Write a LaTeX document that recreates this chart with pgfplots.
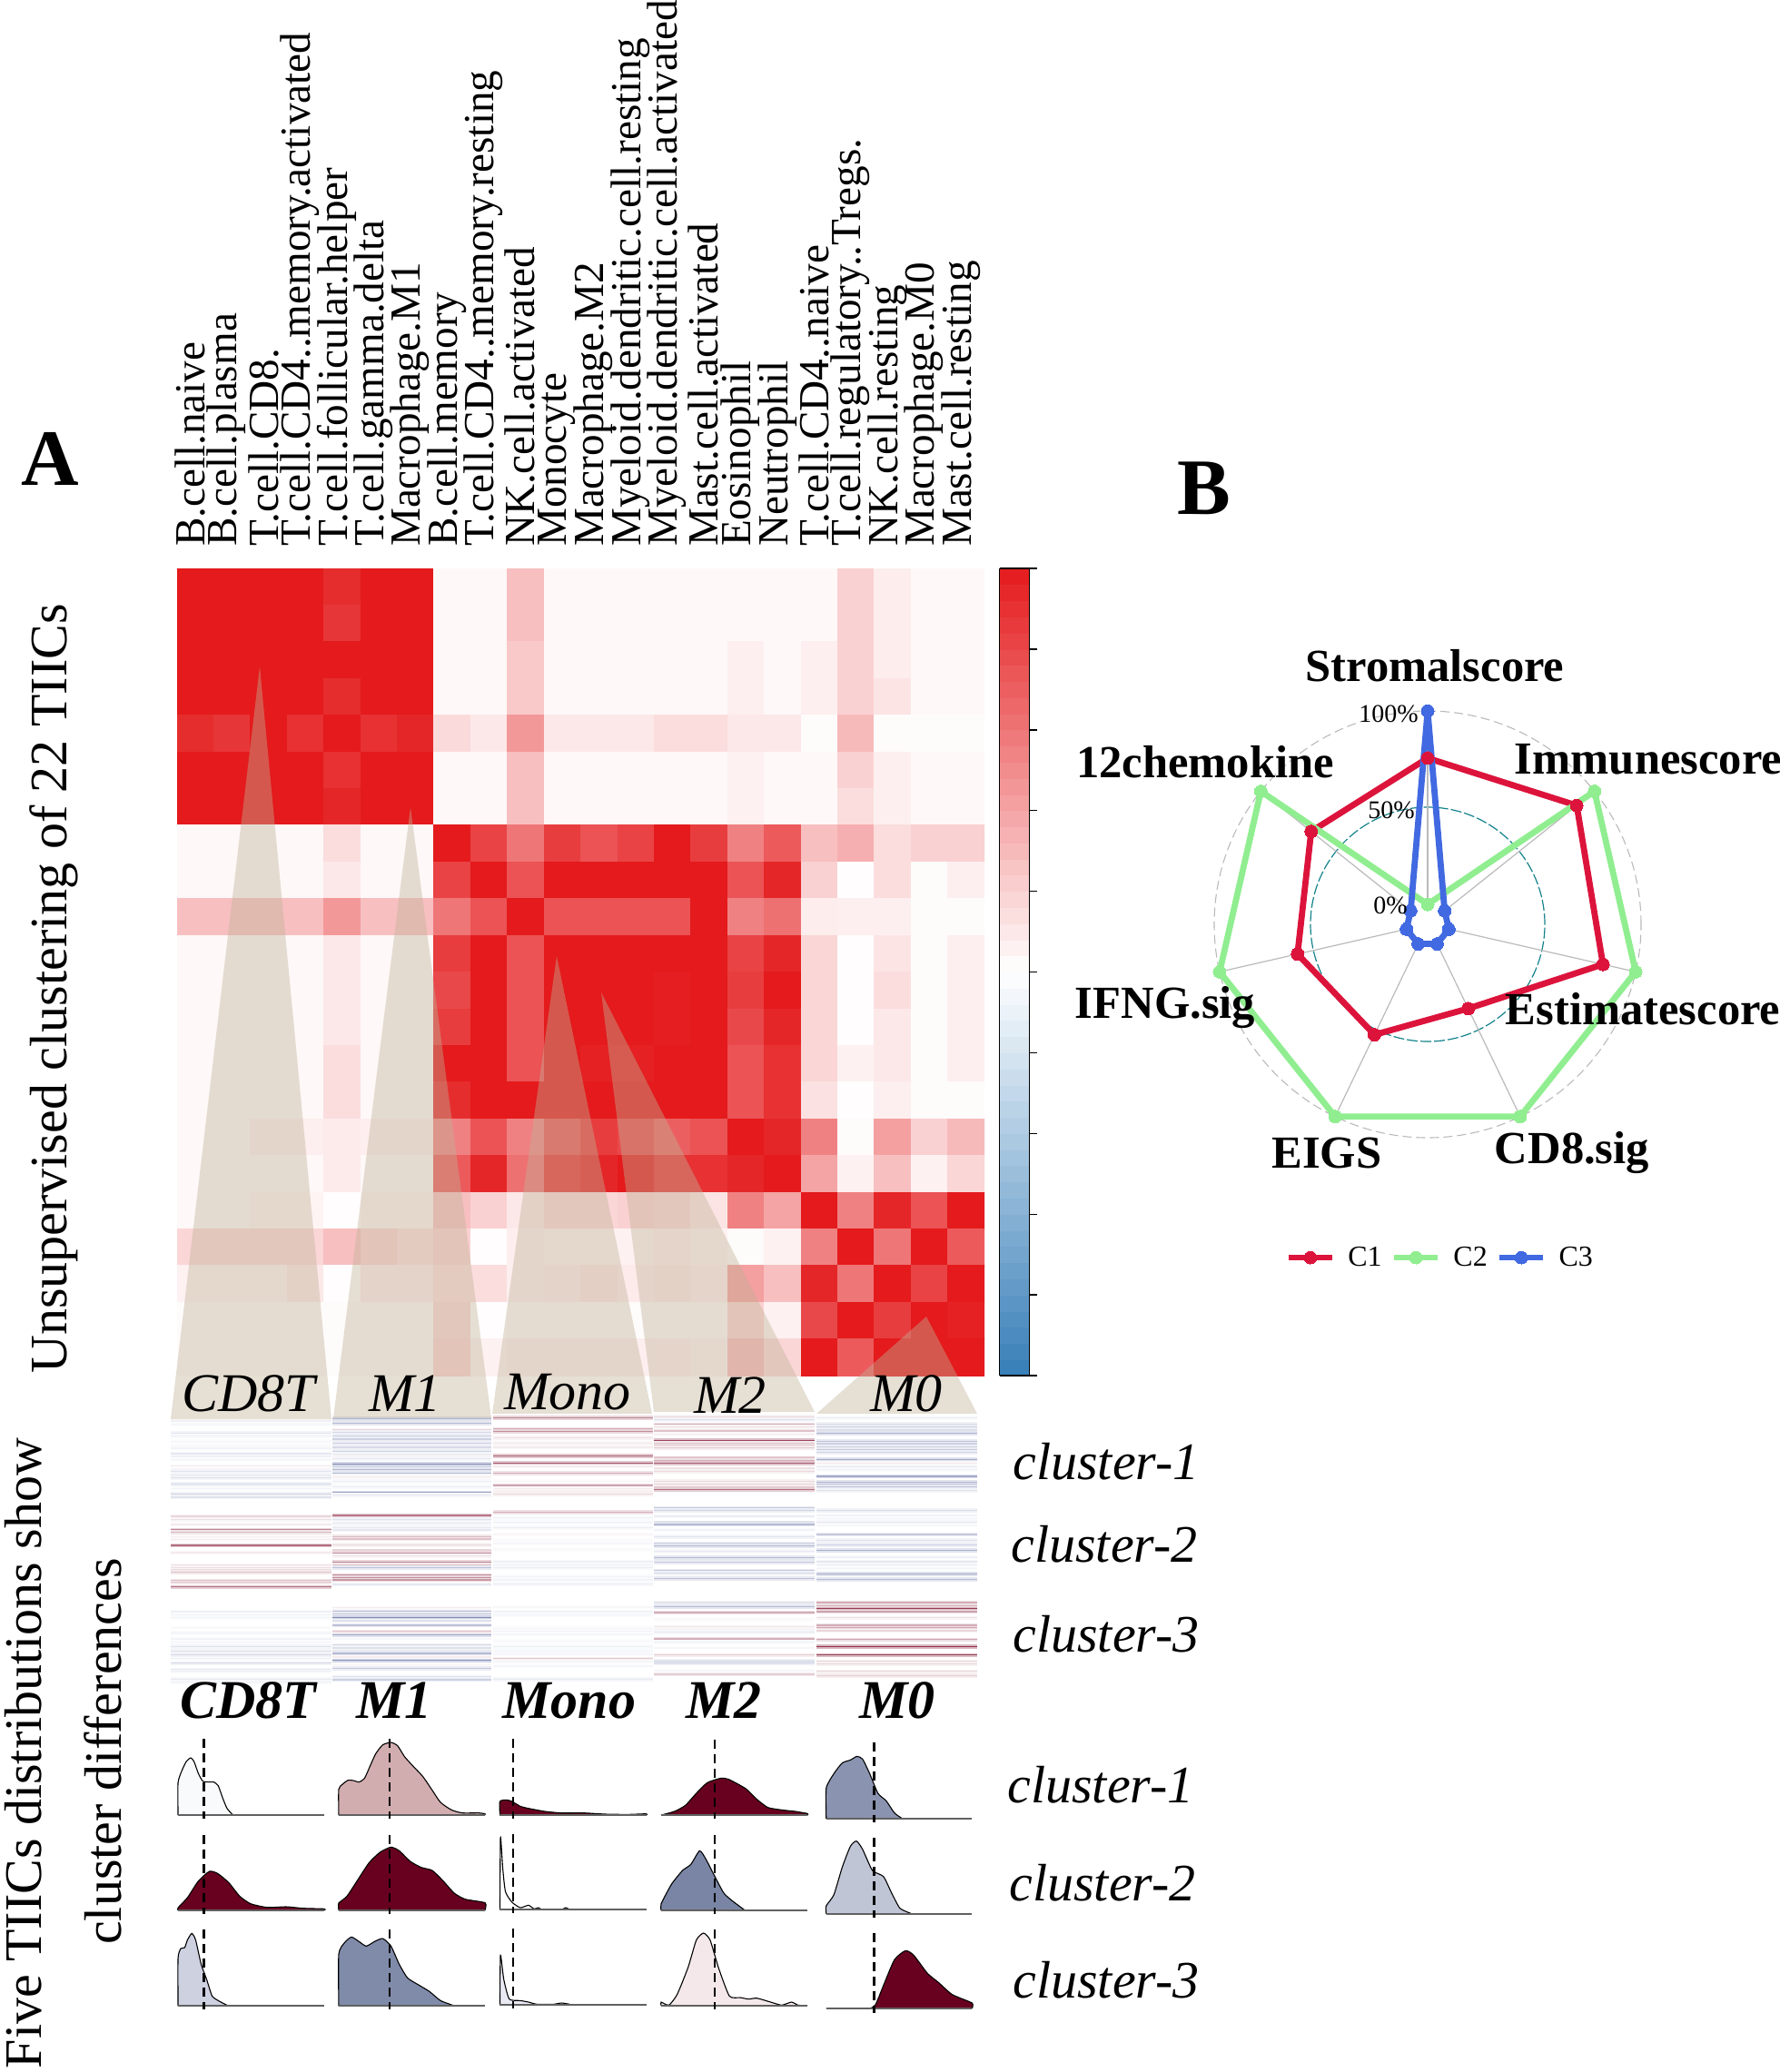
\documentclass[border=0pt]{standalone}
\usepackage{pgfplots}
\pgfplotsset{compat=1.18}
\usepackage{fontspec}
\setmainfont{Liberation Serif}
\definecolor{sred}{RGB}{125,15,45}
\definecolor{sblue}{RGB}{60,75,140}
\definecolor{dred}{RGB}{104,0,31}
\definecolor{tanb}{RGB}{193,178,151}
\definecolor{cone}{RGB}{220,20,60}
\definecolor{ctwo}{RGB}{144,238,144}
\definecolor{cthree}{RGB}{65,105,225}
\definecolor{cteal}{RGB}{20,130,140}
\definecolor{da}{RGB}{248,250,252}
\definecolor{db}{RGB}{210,173,176}
\definecolor{dc}{RGB}{138,148,176}
\definecolor{dd}{RGB}{122,133,165}
\definecolor{de}{RGB}{192,197,214}
\definecolor{df}{RGB}{205,209,224}
\definecolor{dg}{RGB}{128,139,170}
\definecolor{dh}{RGB}{234,234,244}
\definecolor{di}{RGB}{244,232,234}
\newcommand\fs[1]{\fontsize{#1}{#1}\selectfont}
% one block of horizontal stripes: xleft, xright, list of position/signed intensity
\newcommand\stripes[3]{%
  \foreach \yy/\vv in {#3}{%
    \pgfmathsetmacro\pct{abs(\vv)*85}%
    \pgfmathsetmacro\pctb{abs(\vv)*30}%
    \ifdim\vv pt<0pt \def\cc{sblue}\else \def\cc{sred}\fi
    \edef\temp{\noexpand\addplot[forget plot,line width=2.2pt,color=\cc!\pctb!white] coordinates {(#1,\yy)(#2,\yy)};
      \noexpand\addplot[forget plot,line width=.7pt,color=\cc!\pct!white] coordinates {(#1,\yy)(#2,\yy)};}%
    \temp
  }%
}
% one density curve: fill colour, baseline (x0,x1,y), curve
\newcommand\dens[5]{%
  \addplot[forget plot,fill=#1,draw=black,line width=.55pt,smooth,tension=.35] coordinates {#5};
  \addplot[forget plot,draw=black!62,line width=1pt] coordinates {(#2,#4)(#3,#4)};
}
\newcommand\vdsh[3]{\addplot[forget plot,draw=black,line width=1.1pt,dash pattern=on 5pt off 3pt] coordinates {(#1,#2)(#1,#3)};}
\begin{document}
\begin{tikzpicture}
\path[use as bounding box] (0,0) rectangle (980pt,-1141pt);
% heatmap
\begin{axis}[at={(97.5pt,-313pt)},anchor=north west,scale only axis,width=444.5pt,height=444.5pt,
  xmin=-.5,xmax=21.5,ymin=-.5,ymax=21.5,y dir=reverse,
  axis line style={draw=none},ytick=\empty,
  xtick={0,...,21},
  xticklabels={B.cell.naive,B.cell.plasma,T.cell.CD8.,T.cell.CD4..memory.activated,T.cell.follicular.helper,T.cell.gamma.delta,Macrophage.M1,B.cell.memory,T.cell.CD4..memory.resting,NK.cell.activated,Monocyte,Macrophage.M2,Myeloid.dendritic.cell.resting,Myeloid.dendritic.cell.activated,Mast.cell.activated,Eosinophil,Neutrophil,T.cell.CD4..naive,T.cell.regulatory..Tregs.,NK.cell.resting,Macrophage.M0,Mast.cell.resting},
  xticklabel pos=top,major tick length=0pt,
  x tick label style={rotate=90,anchor=west,font=\fs{23.6},xshift=-1.5pt,yshift=3pt},
  xticklabel shift=10pt,
  colormap={bwr}{rgb255(0cm)=(55,126,184); rgb255(1cm)=(255,255,255); rgb255(2cm)=(228,26,28)},
  point meta min=-1,point meta max=1,
  colorbar sampled,
  colorbar style={samples=51,at={(1.0186,1)},anchor=north west,width=16.5pt,height=444.5pt,
    ytick={-1,-.8,...,1},yticklabels={},major tick length=4pt,tick align=outside,ytick pos=right,yticklabel pos=right,
    ytick style={draw=black,line width=.7pt},axis line style={draw=black,line width=.9pt}},
]
\addplot[matrix plot*,mesh/cols=22,point meta=explicit] table[row sep=\\,x expr={\coordindex-22*int((\coordindex+.5)/22)},y expr={int((\coordindex+.5)/22)},meta=v] {
v\\
1\\1\\1\\1\\.92\\1\\1\\.03\\.03\\.28\\.03\\.03\\.03\\.03\\.03\\.03\\.03\\.03\\.2\\.08\\.03\\.03\\
1\\1\\1\\1\\.88\\1\\1\\.03\\.03\\.28\\.03\\.03\\.03\\.03\\.03\\.03\\.03\\.03\\.2\\.08\\.03\\.03\\
1\\1\\1\\1\\1\\1\\1\\.03\\.03\\.24\\.03\\.03\\.03\\.03\\.03\\.07\\.03\\.07\\.2\\.08\\.03\\.03\\
1\\1\\1\\1\\.92\\1\\1\\.03\\.03\\.24\\.03\\.03\\.03\\.03\\.03\\.07\\.03\\.07\\.2\\.12\\.03\\.03\\
.92\\.88\\1\\.9\\1\\.9\\.95\\.16\\.1\\.45\\.1\\.1\\.1\\.15\\.15\\.1\\.1\\.02\\.3\\.02\\.02\\.02\\
1\\1\\1\\1\\.9\\1\\1\\.03\\.03\\.28\\.03\\.03\\.03\\.03\\.03\\.06\\.03\\.03\\.2\\.07\\.03\\.03\\
1\\1\\1\\1\\.95\\1\\1\\.03\\.03\\.28\\.03\\.03\\.03\\.03\\.03\\.06\\.03\\.03\\.15\\.07\\.03\\.03\\
.03\\.03\\.03\\.03\\.15\\.03\\.03\\1\\.82\\.6\\.85\\.75\\.82\\1\\.85\\.55\\.72\\.28\\.35\\.15\\.2\\.2\\
.03\\.03\\.03\\.03\\.1\\.03\\.03\\.82\\1\\.75\\1\\1\\1\\1\\1\\.75\\.95\\.2\\.01\\.15\\.02\\.07\\
.28\\.28\\.28\\.28\\.45\\.28\\.28\\.6\\.75\\1\\.75\\.75\\.75\\.75\\1\\.55\\.62\\.08\\.07\\.07\\.02\\.02\\
.03\\.03\\.03\\.03\\.1\\.03\\.03\\.85\\1\\.75\\1\\1\\1\\1\\1\\.82\\.95\\.18\\.01\\.12\\.02\\.07\\
.03\\.03\\.03\\.03\\.1\\.03\\.03\\.8\\1\\.75\\1\\1\\1\\.98\\1\\.85\\1\\.18\\.01\\.15\\.02\\.07\\
.03\\.03\\.03\\.03\\.1\\.03\\.03\\.85\\1\\.75\\1\\1\\1\\.98\\1\\.8\\.95\\.18\\.01\\.1\\.02\\.07\\
.03\\.03\\.03\\.03\\.15\\.03\\.03\\1\\1\\.75\\1\\.97\\.97\\1\\1\\.75\\.9\\.18\\.06\\.1\\.02\\.07\\
.03\\.03\\.03\\.03\\.15\\.03\\.03\\.92\\1\\1\\1\\1\\1\\1\\1\\.75\\.9\\.13\\.01\\.07\\.02\\.02\\
.03\\.03\\.07\\.07\\.09\\.07\\.07\\.55\\.75\\.55\\.75\\.85\\.8\\.7\\.75\\1\\.95\\.55\\.02\\.42\\.2\\.3\\
.03\\.03\\.03\\.03\\.09\\.03\\.03\\.72\\.95\\.62\\.9\\.95\\1\\.9\\.9\\.95\\1\\.4\\.06\\.28\\.06\\.18\\
.03\\.03\\.05\\.05\\.01\\.05\\.05\\.28\\.2\\.1\\.18\\.18\\.2\\.18\\.12\\.55\\.4\\1\\.55\\.95\\.75\\1\\
.18\\.18\\.18\\.18\\.28\\.2\\.15\\.2\\.01\\.07\\.06\\.06\\.06\\.08\\.06\\.02\\.06\\.55\\1\\.6\\1\\.72\\
.06\\.06\\.06\\.1\\.01\\.09\\.09\\.15\\.15\\.07\\.09\\.12\\.09\\.1\\.08\\.42\\.28\\.95\\.6\\1\\.82\\1\\
.02\\.02\\.02\\.02\\.02\\.02\\.02\\.18\\.01\\.02\\.02\\.02\\.02\\.02\\.02\\.2\\.06\\.8\\1\\.85\\1\\.97\\
.02\\.02\\.02\\.02\\.02\\.02\\.02\\.2\\.06\\.07\\.07\\.07\\.07\\.08\\.05\\.3\\.18\\1\\.72\\1\\1\\1\\
};
\end{axis}
% stripes
\begin{axis}[at={(94pt,-777.5pt)},anchor=north west,scale only axis,width=444pt,height=152.5pt,
  xmin=188,xmax=1076,ymin=165,ymax=1080,y dir=reverse,hide axis,clip=false]
\stripes{188}{365}{195/-.1,205/-.08,235/-.18,245/-.1,262/-.07,278/.05,285/-.08,303/-.15,312/-.1,322/-.08,345/.1,352/.05,362/-.18,375/-.15,382/-.2,403/-.25,418/-.08,437/-.28,447/-.18}
\stripes{366}{541}{187/-.5,203/-.45,225/.2,232/-.25,245/-.3,255/-.3,268/-.3,282/-.25,295/-.3,305/-.15,315/.2,320/-.15,337/-.75,350/-.7,355/-.45,368/-.45,375/-.25,380/.1,395/-.12,412/-.12,432/-.6,440/-.15}
\stripes{543}{719}{184/.6,222/.4,230/.55,250/.15,268/.12,282/.1,310/.75,334/.8,345/.1,368/.4,395/.05,408/.45,418/.1,430/.2,436/.2}
\stripes{720}{897}{182/.2,190/-.2,207/.4,215/.15,228/.3,238/.1,260/.9,268/.3,276/.3,284/.25,320/.8,325/.4,335/.8,356/.4,362/.2,395/.2,403/.2,412/.25,422/.7}
\stripes{899}{1076}{185/-.12,205/-.25,215/-.3,230/-.6,235/-.5,262/-.4,270/-.3,280/-.3,290/-.35,298/-.3,322/-.55,335/.1,348/-.15,356/-.1,378/-.55,397/-.5,405/-.4,413/-.4,425/-.2}
\stripes{188}{365}{510/.2,520/.15,537/.1,555/.6,562/.35,578/.08,586/.1,606/.7,630/.1,672/.15,680/.15,690/.5,695/.3,722/.3,728/.3,743/.7}
\stripes{366}{541}{507/.65,520/-.2,533/-.15,548/-.15,555/-.15,578/.35,585/.3,605/.2,625/.6,632/.55,640/.15,662/.6,670/.3,680/-.4,705/.55,712/.55,720/.5,735/-.15}
\stripes{543}{719}{496/.4,515/-.1,530/-.1,548/-.12,570/.05,590/-.05,600/-.05,620/-.05,660/-.1,672/-.1,680/-.12,710/-.08,720/-.08,733/-.12}
\stripes{720}{897}{483/-.35,490/-.3,510/-.12,532/-.55,537/-.45,555/-.08,578/-.18,600/-.3,607/-.45,625/-.15,646/-.45,662/-.35,690/-.35,698/-.25,716/-.4}
\stripes{899}{1076}{490/-.25,507/-.08,517/-.08,530/-.15,540/-.05,570/-.35,590/-.2,605/-.3,622/-.5,645/-.1,660/-.15,670/-.12,683/-.08,700/-.55,718/-.45}
\stripes{188}{365}{825/-.1,835/-.08,845/-.08,878/-.05,895/-.1,915/-.08,925/-.07,940/-.18,955/-.2,968/-.25,980/-.1,995/-.25,1016/-.15,1022/-.12,1048/-.15,1058/-.1}
\stripes{366}{541}{812/.1,825/-.4,832/-.35,844/-.75,855/-.2,870/-.4,890/.3,902/-.55,915/-.05,935/-.25,945/-.2,958/-.4,963/-.45,975/.1,986/-.7,1000/.05,1012/-.35,1040/-.2,1050/-.3}
\stripes{543}{719}{810/-.05,825/-.08,835/-.08,880/-.07,890/-.07,900/-.06,922/-.05,940/-.1,955/-.08,965/-.07,980/.25,990/-.06,1005/-.06,1048/-.15}
\stripes{720}{897}{795/-.18,808/-.45,828/.4,850/-.05,875/.12,888/-.2,892/-.15,915/.4,925/-.1,945/-.05,968/.25,988/-.3,995/-.3,1020/-.05,1032/.25}
\stripes{899}{1076}{795/.4,805/.4,815/.95,825/.45,845/.15,870/.4,878/.45,888/.2,917/.45,940/1,968/.9,990/.2,997/.2,1022/.2,1036/.25}
\end{axis}
% densities
\begin{axis}[at={(85pt,-950pt)},anchor=north west,scale only axis,width=475pt,height=170pt,
  xmin=0,xmax=1568,ymin=0,ymax=1020,y dir=reverse,hide axis,clip=false]
\dens{da}{43}{309}{297}{(43,297)(43,190)(50,150)(58,120)(66,108)(72,120)(80,160)(88,185)(100,188)(108,188)(116,200)(124,240)(132,275)(143,297)}
\dens{db}{335}{601}{297}{(335,297)(335,212)(342,195)(352,182)(362,183)(372,188)(382,175)(392,135)(402,95)(415,65)(430,57)(442,68)(455,105)(470,135)(488,170)(505,215)(520,255)(540,280)(560,290)(590,290)(601,293)(601,297)}
\dens{dred}{628}{894}{297}{(628,297)(628,252)(640,247)(650,252)(665,268)(680,275)(710,285)(740,290)(780,290)(820,294)(860,295)(894,293)(894,297)}
\dens{dred}{921}{1187}{297}{(921,297)(945,285)(965,265)(985,225)(1005,190)(1030,175)(1045,180)(1075,210)(1095,245)(1115,272)(1140,280)(1165,285)(1187,292)(1187,297)}
\dens{dc}{1221}{1486}{309}{(1221,309)(1221,208)(1235,160)(1250,125)(1265,115)(1277,103)(1287,112)(1300,160)(1315,225)(1330,250)(1345,290)(1358,307)}
\dens{dred}{43}{309}{611}{(43,611)(43,603)(60,570)(80,515)(100,483)(115,490)(135,520)(155,565)(175,590)(205,602)(240,600)(270,605)(309,607)(309,611)}
\dens{dred}{335}{601}{611}{(335,611)(335,588)(350,565)(370,510)(390,455)(410,420)(430,403)(445,415)(465,450)(485,470)(505,480)(525,515)(545,555)(565,575)(601,587)(601,611)}
\dens{white}{628}{894}{609}{(628,609)(629,370)(633,470)(638,550)(650,585)(665,603)(680,595)(690,607)(698,603)(705,609)(740,609)(747,603)(755,609)}
\dens{dd}{921}{1187}{611}{(921,611)(921,590)(940,525)(960,480)(975,460)(991,415)(1003,445)(1020,505)(1035,555)(1050,580)(1072,610)}
\dens{de}{1221}{1486}{623}{(1221,623)(1221,597)(1235,560)(1250,470)(1265,400)(1276,383)(1287,410)(1305,480)(1325,500)(1340,555)(1355,605)(1375,622)}
\dens{df}{43}{309}{928}{(43,928)(43,770)(48,738)(55,735)(60,710)(68,688)(75,710)(85,790)(95,840)(105,895)(118,912)(135,928)}
\dens{dg}{335}{601}{928}{(335,928)(335,757)(345,720)(358,700)(372,715)(385,730)(400,715)(415,705)(430,730)(445,790)(460,835)(480,858)(500,880)(520,910)(545,927)}
\dens{dh}{628}{894}{923}{(628,923)(629,760)(635,840)(645,905)(665,910)(680,915)(695,922)(725,922)(740,918)(755,922)}
\dens{di}{921}{1187}{926}{(921,926)(921,915)(935,925)(950,890)(970,800)(985,710)(998,687)(1010,710)(1025,800)(1045,895)(1065,900)(1080,905)(1095,902)(1120,915)(1140,925)(1158,915)(1170,925)(1187,926)}
\dens{dred}{1221}{1486}{936}{(1221,936)(1295,936)(1310,925)(1325,860)(1345,775)(1365,745)(1380,760)(1405,820)(1425,850)(1450,890)(1486,918)(1486,936)}
\vdsh{90}{45}{310}\vdsh{427}{45}{310}\vdsh{652}{45}{310}\vdsh{1018}{48}{310}\vdsh{1308}{58}{320}
\vdsh{90}{362}{625}\vdsh{427}{362}{625}\vdsh{652}{360}{622}\vdsh{1018}{362}{625}\vdsh{1308}{373}{635}
\vdsh{90}{675}{940}\vdsh{427}{675}{940}\vdsh{652}{672}{935}\vdsh{1018}{675}{938}\vdsh{1308}{687}{950}
\end{axis}
% radar
\begin{axis}[at={(786pt,-509pt)},anchor=center,scale only axis,width=320.4pt,height=320.4pt,
  xmin=-150,xmax=150,ymin=-150,ymax=150,hide axis,clip=false,
  legend columns=3,
  legend style={draw=none,fill=none,at={(.523,-.0727)},anchor=center,font=\fs{16},
    /tikz/every even column/.append style={column sep=3pt}},
  legend image code/.code={\draw[mark repeat=2,mark phase=2,#1] plot coordinates {(0pt,0pt)(12pt,0pt)(24pt,0pt)};},
]
\draw[dash pattern=on 5pt off 2.5pt,draw=black!27,line width=.55pt] (axis cs:0,0) circle[radius=117.5pt];
\draw[dash pattern=on 6pt off 1.5pt,draw=cteal,line width=.6pt] (axis cs:0,0) circle[radius=64.5pt];
\addplot[forget plot,data cs=polar,draw=black!27,line width=.6pt] coordinates {(90,10)(90,110)};
\addplot[forget plot,data cs=polar,draw=black!27,line width=.6pt] coordinates {(38.57,10)(38.57,110)};
\addplot[forget plot,data cs=polar,draw=black!27,line width=.6pt] coordinates {(-12.86,10)(-12.86,110)};
\addplot[forget plot,data cs=polar,draw=black!27,line width=.6pt] coordinates {(-64.29,10)(-64.29,110)};
\addplot[forget plot,data cs=polar,draw=black!27,line width=.6pt] coordinates {(-115.71,10)(-115.71,110)};
\addplot[forget plot,data cs=polar,draw=black!27,line width=.6pt] coordinates {(-167.14,10)(-167.14,110)};
\addplot[forget plot,data cs=polar,draw=black!27,line width=.6pt] coordinates {(141.43,10)(141.43,110)};
\addplot[data cs=polar,color=cone,line width=3.4pt,mark=*,mark size=3.5pt,mark options={solid,fill=cone,draw=cone,line width=0pt}] coordinates {(90,85.7)(38.57,98.3)(-12.86,92.7)(-64.29,48.2)(-115.71,63.2)(-167.14,68.8)(141.43,76.8)(90,85.7)};
\addlegendentry{\hspace{5pt}C1\hspace{1.5pt}}
\addplot[data cs=polar,color=ctwo,line width=3.4pt,mark=*,mark size=3.5pt,mark options={solid,fill=ctwo,draw=ctwo,line width=0pt}] coordinates {(90,10.3)(38.57,110)(-12.86,110)(-64.29,110)(-115.71,110)(-167.14,110)(141.43,110)(90,10.3)};
\addlegendentry{\hspace{5pt}C2\hspace{1.5pt}}
\addplot[data cs=polar,color=cthree,line width=3.4pt,mark=*,mark size=3.5pt,mark options={solid,fill=cthree,draw=cthree,line width=0pt}] coordinates {(90,110)(38.57,11.2)(-12.86,11.2)(-64.29,11.2)(-115.71,11.2)(-167.14,11.2)(141.43,11.2)(90,110)};
\addlegendentry{\hspace{5pt}C3}
\addplot[forget plot,data cs=polar,only marks,mark=*,mark size=3.5pt,mark options={fill=cone,draw=cone,line width=0pt}] coordinates {(90,85.7)(38.57,98.3)(-12.86,92.7)(-64.29,48.2)(-115.71,63.2)(-167.14,68.8)(141.43,76.8)};
\end{axis}
% overlays in reference pixels
\begin{scope}[x=.5pt,y=-.5pt]
\fill[tanb,opacity=.41] (286,734)--(365,1563)--(188,1563)--cycle;
\fill[tanb,opacity=.41] (452,889)--(541,1562)--(367,1562)--cycle;
\fill[tanb,opacity=.41] (613,1053)--(718,1557)--(542,1557)--cycle;
\fill[tanb,opacity=.41] (662,1093)--(897,1555)--(720,1555)--cycle;
\fill[tanb,opacity=.41] (1020,1450)--(1076,1557)--(899,1557)--cycle;
\tikzset{lab/.style={font=\fs{30}\itshape,inner sep=0pt},blab/.style={font=\fs{30}\bfseries\itshape,inner sep=0pt},
  clu/.style={font=\fs{29}\itshape,inner sep=0pt},rl/.style={font=\fs{25.3}\bfseries,inner sep=0pt},tk/.style={font=\fs{14},inner sep=0pt,anchor=east}}
\node[lab] at (274,1535) {CD8T};\node[lab] at (446,1535) {M1};\node[lab] at (625,1533) {Mono};\node[lab] at (804,1537) {M2};\node[lab] at (998,1535) {M0};
\node[blab] at (273,1873) {CD8T};\node[blab] at (434,1873) {M1};\node[blab] at (627,1873) {Mono};\node[blab] at (797,1873) {M2};\node[blab] at (988,1873) {M0};
\node[clu] at (1218,1610) {cluster-1};\node[clu] at (1216,1701) {cluster-2};\node[clu] at (1218,1800) {cluster-3};
\node[clu] at (1212,1966) {cluster-1};\node[clu] at (1214,2074) {cluster-2};\node[clu] at (1218,2181) {cluster-3};
\node[font=\fs{29},rotate=90,inner sep=0pt] at (59,1089) {Unsupervised clustering of 22 TIICs};
\node[font=\fs{29},rotate=90,inner sep=0pt] at (26,1931) {Five TIICs distributions show};
\node[font=\fs{29},rotate=90,inner sep=0pt] at (113,1929) {cluster differences};
\node[font=\fs{44}\bfseries,inner sep=0pt] at (55,505) {A};
\node[font=\fs{44}\bfseries,inner sep=0pt] at (1326,538) {B};
\node[rl] at (1580,733) {Stromalscore};\node[rl] at (1815,836) {Immunescore};\node[rl] at (1327,839) {12chemokine};
\node[rl] at (1809,1111) {Estimatescore};\node[rl] at (1283,1110) {IFNG.sig};\node[rl] at (1461,1270) {EIGS};\node[rl] at (1731,1270) {CD8.sig};
\node[tk] at (1562,786) {100\%};\node[tk] at (1558,892) {50\%};\node[tk] at (1550,997) {0\%};
\end{scope}
\end{tikzpicture}
\end{document}
